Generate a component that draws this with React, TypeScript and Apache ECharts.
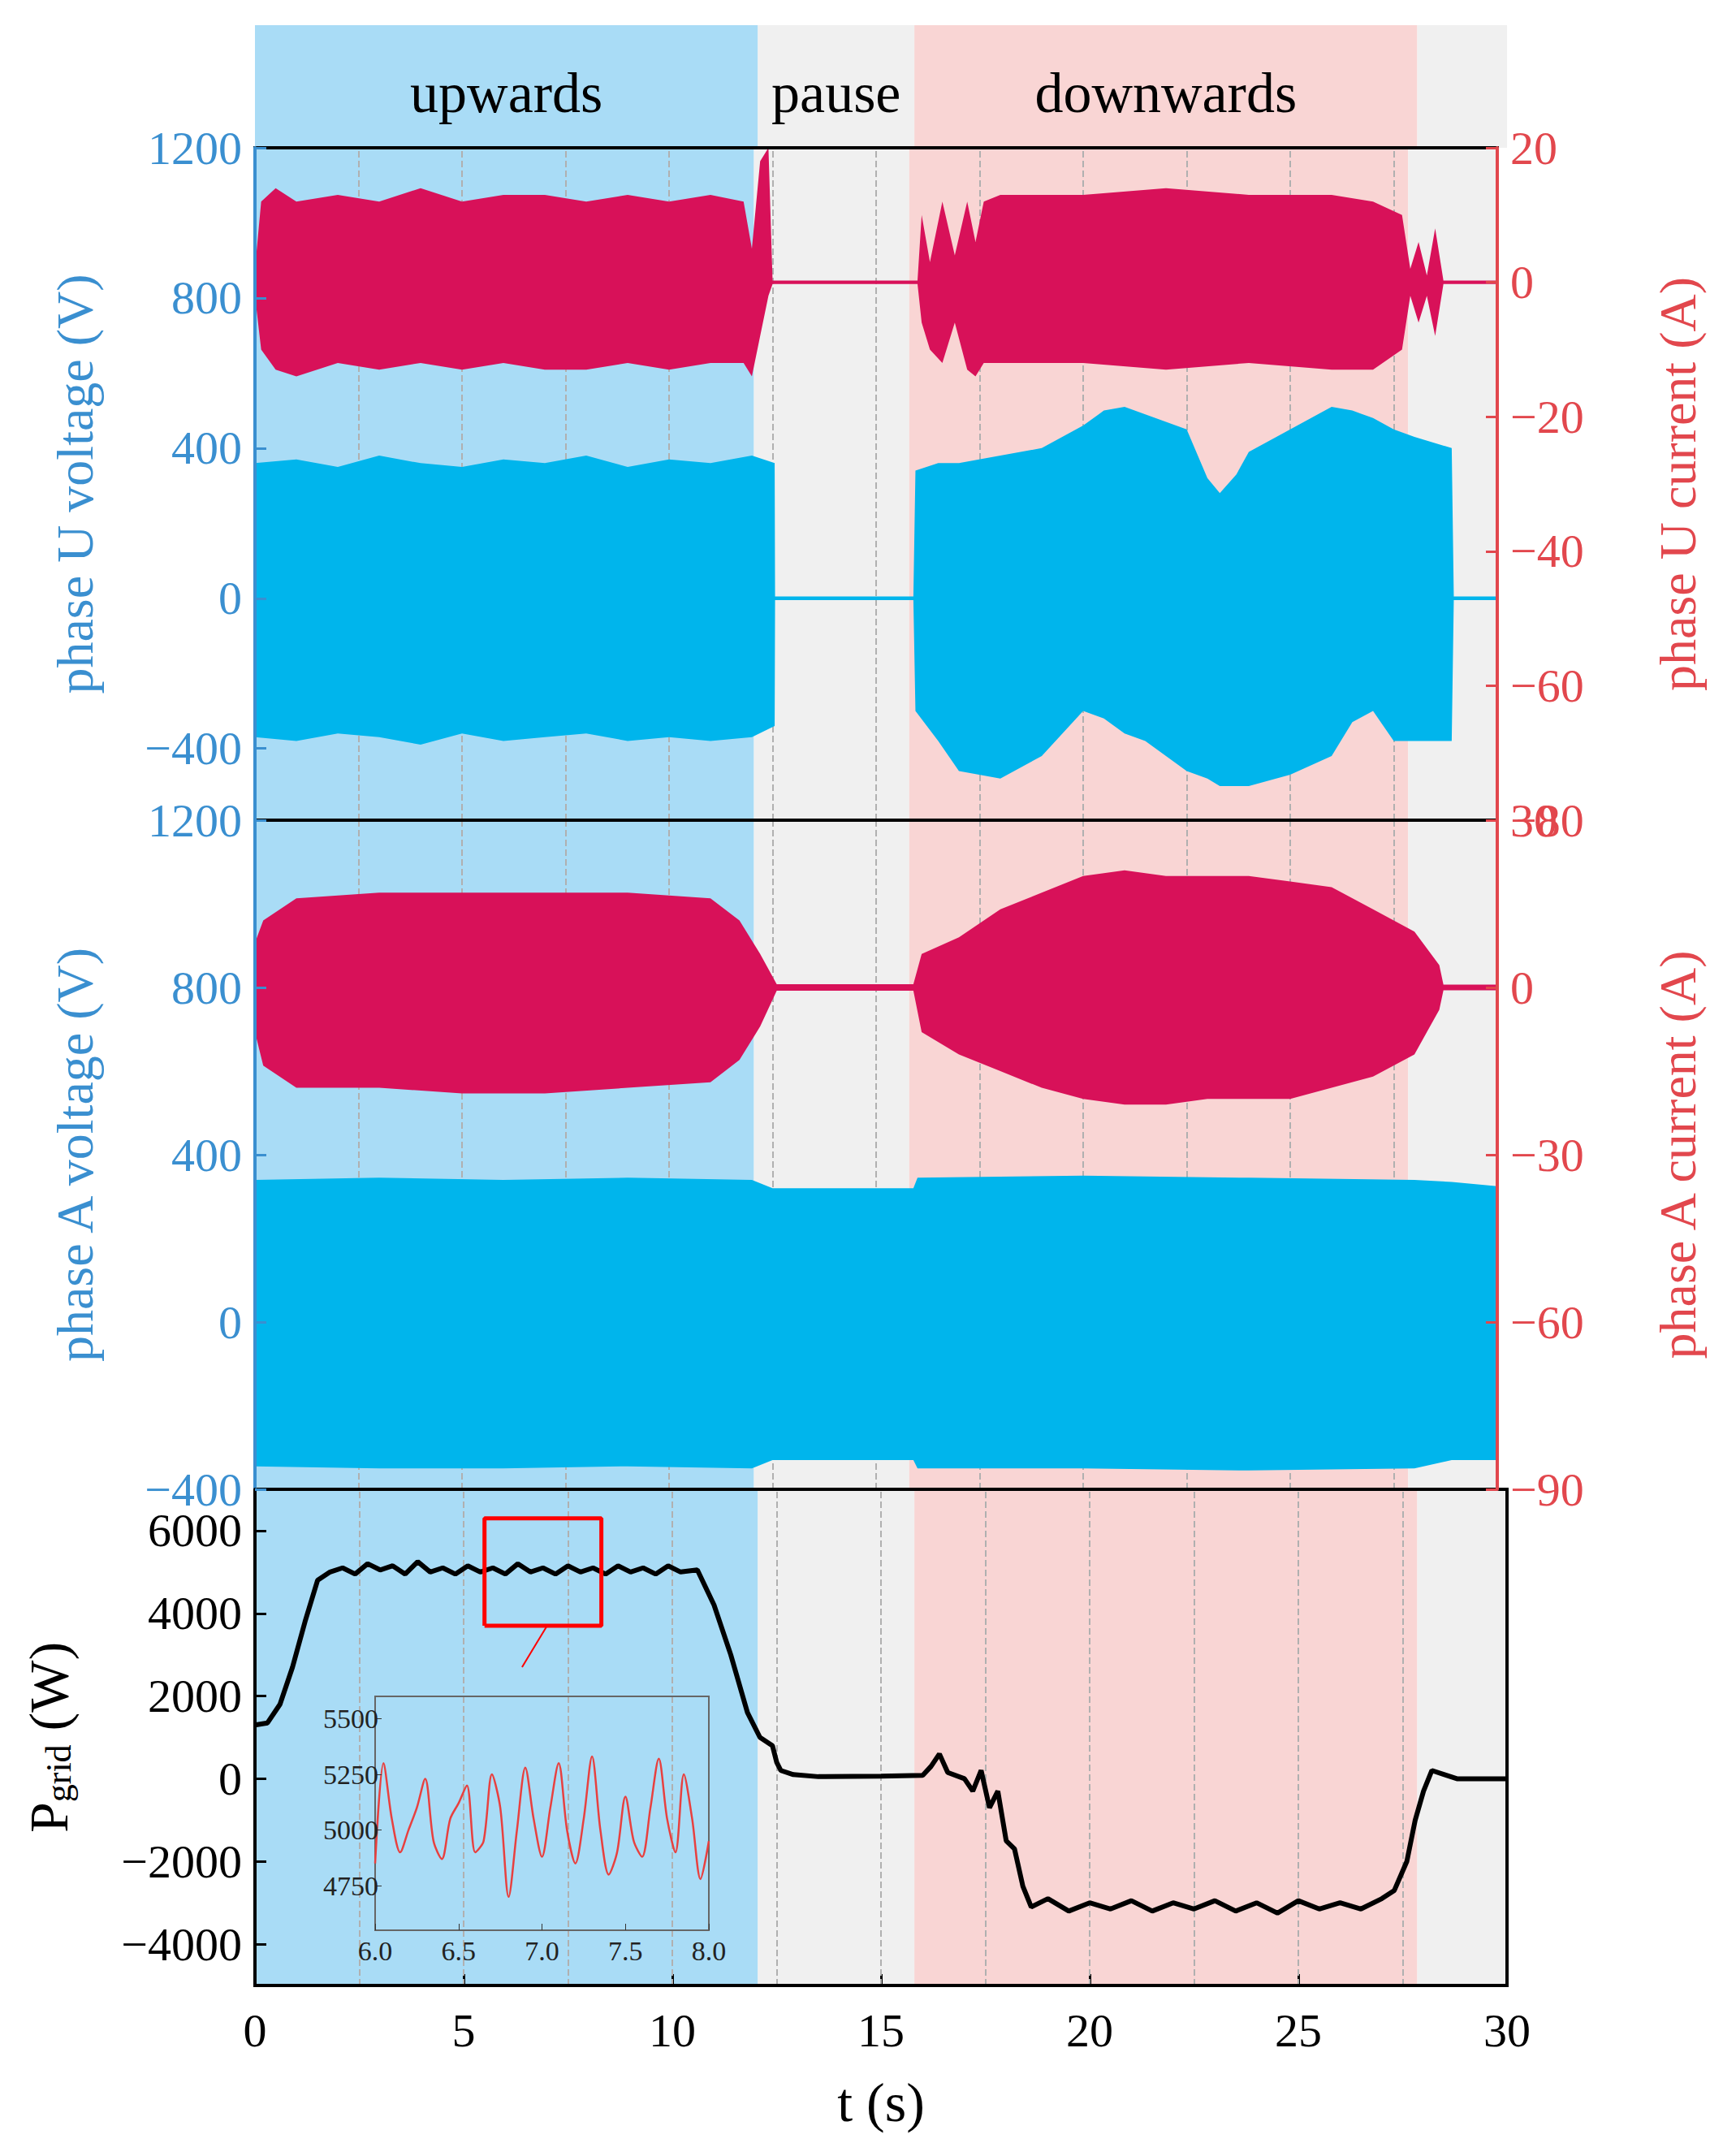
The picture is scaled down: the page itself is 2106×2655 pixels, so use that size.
import React, { useEffect, useRef } from 'react';
import * as echarts from 'echarts';

// [t, upper, lower] envelopes
const uVolt = [[0,360,-370],[1,370,-380],[2,350,-360],[3,380,-370],[4,360,-390],[5,350,-360],[6,370,-380],[7,360,-370],[8,380,-360],[9,350,-380],[10,370,-370],[11,360,-380],[12,380,-370],[12.55,360,-340],[12.56,5,-5],[15.9,5,-5],[15.95,340,-300],[16.5,360,-380],[17,360,-460],[18,380,-480],[19,400,-420],[20,460,-300],[20.5,500,-320],[21,510,-360],[21.5,490,-380],[22,470,-420],[22.5,450,-460],[23,320,-480],[23.3,280,-500],[23.7,330,-500],[24,390,-500],[25,450,-470],[26,510,-420],[26.5,500,-330],[27,480,-300],[27.5,450,-380],[28,430,-380],[28.9,400,-380],[28.95,5,-5],[30,5,-5]];
const uCurr = [[0,2,-2],[0.15,12,-10],[0.5,14,-13],[1,12,-14],[2,13,-12],[3,12,-13],[4,14,-12],[5,12,-13],[6,13,-12],[7,13,-13],[8,12,-13],[9,13,-12],[10,12,-13],[11,13,-12],[11.8,12,-12],[12,5,-14],[12.2,18,-8],[12.4,20,-2],[12.5,0.25,-0.25],[16,0.25,-0.25],[16.1,10,-6],[16.3,3,-10],[16.6,12,-12],[16.9,4,-6],[17.2,12,-13],[17.4,6,-14],[17.6,12,-12],[18,13,-12],[20,13,-12],[22,14,-13],[24,13,-12],[26,13,-13],[27,12,-13],[27.7,10,-10],[27.9,2,-2],[28.1,6,-6],[28.3,1,-2],[28.5,8,-8],[28.7,0.25,-0.25],[30,0.25,-0.25]];
const aCurr = [[0,8,-8],[0.2,12,-14],[1,16,-18],[3,17,-18],[5,17,-19],[7,17,-19],[9,17,-18],[11,16,-17],[11.7,12,-13],[12.2,6,-7],[12.6,0.6,-0.6],[15.9,0.6,-0.6],[16.1,6,-8],[17,9,-12],[18,14,-15],[19,17,-18],[20,20,-20],[21,21,-21],[22,20,-21],[23,20,-20],[24,20,-20],[25,19,-20],[26,18,-18],[27,14,-16],[28,10,-12],[28.6,4,-4],[28.7,0.5,-0.5],[30,0.5,-0.5]];
const aVolt = [[0,340,-345],[3,345,-350],[6,340,-350],[9,345,-345],[12,340,-350],[12.5,320,-330],[15.9,320,-330],[16,345,-350],[20,350,-350],[24,345,-355],[28,340,-350],[28.9,335,-330],[30,325,-330]];

const pGrid = [[0,1300],[0.3,1350],[0.6,1800],[0.9,2700],[1.2,3800],[1.5,4800],[1.8,5000],[2.1,5100],[2.4,4950],[2.7,5200],[3,5050],[3.3,5150],[3.6,4950],[3.9,5250],[4.2,5000],[4.5,5100],[4.8,4950],[5.1,5150],[5.4,5000],[5.7,5100],[6,4950],[6.3,5200],[6.6,5000],[6.9,5100],[7.2,4950],[7.5,5150],[7.8,5000],[8.1,5100],[8.4,4950],[8.7,5150],[9,5000],[9.3,5100],[9.6,4950],[9.9,5150],[10.2,5000],[10.6,5050],[11,4200],[11.4,3000],[11.8,1600],[12.1,1000],[12.4,800],[12.5,400],[12.6,200],[12.9,100],[13.5,50],[15,60],[16,80],[16.2,300],[16.4,600],[16.6,150],[17,0],[17.2,-300],[17.4,200],[17.6,-700],[17.8,-300],[18,-1500],[18.2,-1700],[18.4,-2600],[18.6,-3100],[19,-2900],[19.5,-3200],[20,-3000],[20.5,-3150],[21,-2950],[21.5,-3200],[22,-3000],[22.5,-3150],[23,-2950],[23.5,-3200],[24,-3000],[24.5,-3250],[25,-2950],[25.5,-3150],[26,-3000],[26.5,-3150],[27,-2900],[27.3,-2700],[27.6,-2000],[27.8,-1000],[28,-300],[28.2,200],[28.5,100],[28.8,0],[30,0]];

const insetT = [6.00,6.05,6.10,6.15,6.20,6.25,6.30,6.35,6.40,6.45,6.50,6.55,6.60,6.65,6.70,6.75,6.80,6.85,6.90,6.95,7.00,7.05,7.10,7.15,7.20,7.25,7.30,7.35,7.40,7.45,7.50,7.55,7.60,7.65,7.70,7.75,7.80,7.85,7.90,7.95,8.00];
const insetP = [4850,5300,5050,4900,5000,5100,5230,4950,4870,5050,5120,5200,4900,4950,5250,5100,4700,5000,5280,5050,4880,5100,5300,5000,4850,5050,5330,5000,4800,4900,5150,4950,4880,5100,5320,5050,4900,5250,5050,4780,4950];

const phases = [
  { name: 'upwards', from: 0, to: 12.05, color: '#a9dcf6' },
  { name: 'pause', from: 12.05, to: 15.8, color: '#f0f0f0' },
  { name: 'downwards', from: 15.8, to: 27.85, color: '#f9d5d4' },
  { name: '', from: 27.85, to: 30, color: '#f0f0f0' },
];

const BLUE = '#00b5ec';
const RED = '#d81159';
const LBLUE = '#3a8fd0';
const LRED = '#e2474d';
const FONT = '"Liberation Serif", "Times New Roman", serif';
const GRID_T = [2.5, 5, 7.5, 10, 12.5, 15, 17.5, 20, 22.5, 25, 27.5];

const env = (arr: number[][], color: string) => (params: any, api: any) => {
  if (params.dataIndex > 0) return null;
  const pts = arr.map(d => api.coord([d[0], d[1]]))
    .concat(arr.slice().reverse().map(d => api.coord([d[0], d[2]])));
  return { type: 'polygon', shape: { points: pts }, style: { fill: color } };
};

const App: React.FC = () => {
  const ref = useRef<HTMLDivElement>(null);

  useEffect(() => {
    document.body.style.margin = '0';
    if (!ref.current) return;
    const chart = echarts.init(ref.current, undefined, { renderer: 'svg' });
    const L = 314, R = 2106 - 1856;
    const grids = [
      { left: L, right: R, top: 31, height: 151 },
      { left: L, right: R, top: 182, height: 828 },
      { left: L, right: R, top: 1010, height: 824 },
      { left: L, right: R, top: 1834, height: 611 },
      { left: 462, width: 411, top: 2089, height: 288 },
    ].map((g, i) => ({
      ...g,
      show: i > 0,
      borderColor: i === 4 ? '#666' : '#000',
      borderWidth: i === 4 ? 2 : 4,
      backgroundColor: 'transparent',
      z: i === 4 ? 10 : 6,
    }));

    const xBase = (gi: number, labels: boolean) => ({
      type: 'value', gridIndex: gi, min: 0, max: 30, interval: 2.5, z: 4,
      axisLine: { show: gi === 3, onZero: false, lineStyle: { color: '#000', width: 4 } },
      axisTick: { show: labels, inside: true, length: 14, lineStyle: { color: '#000', width: 3 }, customValues: [0, 5, 10, 15, 20, 25, 30] },
      axisLabel: { show: labels, fontFamily: FONT, fontSize: 58, color: '#000', margin: 26, customValues: [0, 5, 10, 15, 20, 25, 30] },
      splitLine: { show: false },
      name: labels ? 't (s)' : '', nameLocation: 'middle', nameGap: 110,
      nameTextStyle: { fontFamily: FONT, fontSize: 68, color: '#000' },
    });

    const yAxis = (gi: number, pos: string, min: number, max: number, vals: number[], color: string, name: string, extra: any = {}) => ({
      type: 'value', gridIndex: gi, position: pos, min, max, z: 7,
      axisLine: { show: true, lineStyle: { color, width: 4 } },
      axisTick: { show: true, inside: true, length: 14, lineStyle: { color, width: 3 }, customValues: vals },
      axisLabel: { color, fontFamily: FONT, fontSize: 58, margin: 16, customValues: vals, formatter: (v: number) => String(v).replace('-', '\u2212') },
      splitLine: { show: false },
      name, nameLocation: 'middle', nameGap: 190, nameRotate: 90,
      nameTextStyle: { fontFamily: FONT, fontSize: 64, color },
      ...extra,
    });

    const bandSeries = (gi: number, label: boolean) => ({
      type: 'line', xAxisIndex: gi, yAxisIndex: [0, 1, 3, 5][gi], data: [], silent: true, z: 1,
      markArea: {
        silent: true,
        data: phases.map(p => [{
          xAxis: p.from, itemStyle: { color: p.color },
          label: { show: label && p.name !== '', position: 'inside', formatter: p.name, fontFamily: FONT, fontSize: 70, color: '#000', offset: [0, 8] },
        }, { xAxis: p.to }]),
      },
      markLine: gi === 0 ? undefined : {
        silent: true, symbol: 'none', label: { show: false },
        lineStyle: { type: 'dashed', color: '#b0b0b0', width: 2 },
        data: GRID_T.map(t => ({ xAxis: t })),
      },
    });

    const envSeries = (xi: number, yi: number, arr: number[][], color: string) => ({
      type: 'custom', xAxisIndex: xi, yAxisIndex: yi, data: [[0, 0]],
      renderItem: env(arr, color), silent: true, z: 5,
    });

    chart.setOption({
      animation: false,
      grid: grids,
      xAxis: [
        xBase(0, false),
        xBase(1, false),
        xBase(2, false),
        xBase(3, true),
        {
          type: 'value', gridIndex: 4, min: 6, max: 8, interval: 0.5, z: 12,
          axisLine: { show: false }, axisTick: { inside: true, length: 8, lineStyle: { color: '#333' } },
          axisLabel: { fontFamily: FONT, fontSize: 34, color: '#222', formatter: (v: number) => v.toFixed(1) },
          splitLine: { show: false },
        },
      ],
      yAxis: [
        { type: 'value', gridIndex: 0, min: 0, max: 1, show: false },
        yAxis(1, 'left', -591, 1200, [-400, 0, 400, 800, 1200], LBLUE, 'phase U voltage (V)'),
        yAxis(1, 'right', -80, 20, [-80, -60, -40, -20, 0, 20], LRED, 'phase U current (A)'),
        yAxis(2, 'left', -400, 1200, [-400, 0, 400, 800, 1200], LBLUE, 'phase A voltage (V)'),
        yAxis(2, 'right', -90, 30, [-90, -60, -30, 0, 30], LRED, 'phase A current (A)'),
        yAxis(3, 'left', -5000, 7000, [-4000, -2000, 0, 2000, 4000, 6000], '#000', 'P{sub|grid} (W)', {
          nameTextStyle: { fontFamily: FONT, fontSize: 68, color: '#000', rich: { sub: { fontFamily: FONT, fontSize: 44, color: '#000', verticalAlign: 'bottom', padding: [20, 0, 0, 0] } } },
          nameGap: 220,
        }),
        {
          type: 'value', gridIndex: 4, min: 4550, max: 5600, z: 12,
          axisLine: { show: false }, axisTick: { inside: true, length: 8, lineStyle: { color: '#333' }, customValues: [4750, 5000, 5250, 5500] },
          axisLabel: { fontFamily: FONT, fontSize: 34, color: '#222', margin: -4, customValues: [4750, 5000, 5250, 5500], formatter: (v: number) => String(v) },
          splitLine: { show: false },
        },
      ],
      series: [
        bandSeries(0, true), bandSeries(1, false), bandSeries(2, false), bandSeries(3, false),
        envSeries(1, 1, uVolt, BLUE),
        envSeries(1, 2, uCurr, RED),
        envSeries(2, 3, aVolt, BLUE),
        envSeries(2, 4, aCurr, RED),
        {
          type: 'line', xAxisIndex: 3, yAxisIndex: 5, data: pGrid, showSymbol: false,
          lineStyle: { color: '#000', width: 6 }, z: 5,
        },
        {
          type: 'line', xAxisIndex: 3, yAxisIndex: 5, showSymbol: false, z: 6,
          data: [[5.5, 3700], [8.3, 3700], [8.3, 6300], [5.5, 6300], [5.5, 3700]],
          lineStyle: { color: '#f00', width: 5 },
        },
        {
          type: 'line', xAxisIndex: 3, yAxisIndex: 5, showSymbol: false, z: 6,
          data: [[7.0, 3700], [6.4, 2700]],
          lineStyle: { color: '#f00', width: 2 },
        },
        {
          type: 'line', xAxisIndex: 4, yAxisIndex: 6, showSymbol: false, z: 11,
          data: insetT.map((t, i) => [t, insetP[i]]), smooth: 0.3,
          lineStyle: { color: '#e8403f', width: 2.5 },
        },
      ],
    });
    return () => chart.dispose();
  }, []);

  return <div ref={ref} style={{ width: 2106, height: 2655 }} />;
};

export default App;
